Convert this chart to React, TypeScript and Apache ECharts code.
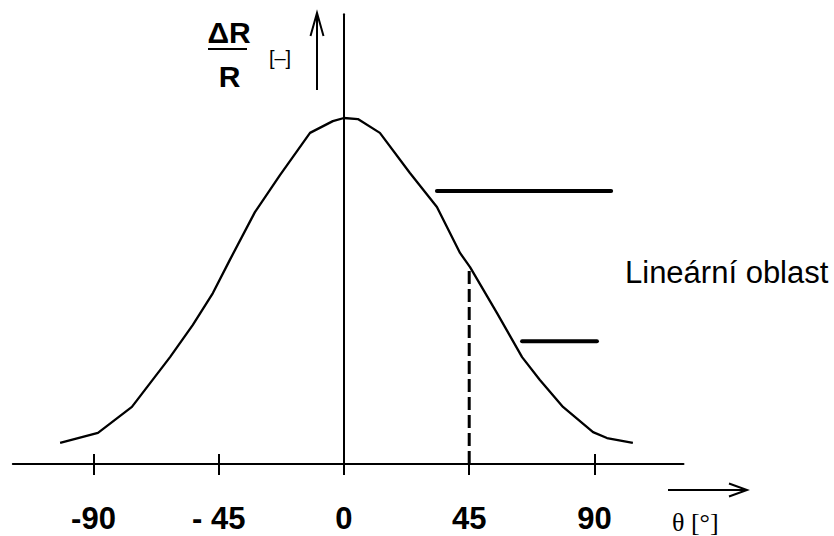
import React, { useEffect, useRef } from "react";
import * as echarts from "echarts";

// Curve: relative resistance change vs. angle (peak normalised to 1)
const thetaDeg = [-102, -88.4, -76.2, -62.5, -54.3, -47.1, -41.0, -32.0, -23.0, -12.2, -4.0, 0, 5.0, 12.9, 23.7, 33.4, 41.7, 45.3, 55.0, 64.0, 70.4, 78.7, 89.5, 94.5, 103.8];
const deltaR = [0.061, 0.09, 0.165, 0.309, 0.402, 0.494, 0.59, 0.728, 0.835, 0.957, 0.991, 1.0, 0.997, 0.957, 0.841, 0.743, 0.61, 0.569, 0.436, 0.309, 0.243, 0.165, 0.092, 0.075, 0.061];

// Dashed marker at 45°
const markerTheta = [45, 45];
const markerValue = [0, 0.569];

// Linear-region bracket lines
const upperBarTheta = [33.4, 96.0];
const upperBarValue = [0.789, 0.789];
const lowerBarTheta = [64.0, 90.9];
const lowerBarValue = [0.355, 0.355];

// Axis ticks
const tickValues = [-90, -45, 0, 45, 90];
const tickLabels = ["-90", "- 45", "0", "45", "90"];

const xMin = -119;
const xMax = 122;
const yMin = 0;
const yMax = 1.3;

const zip = (a: number[], b: number[]) => a.map((v, i) => [v, b[i]]);

export default function App() {
  const ref = useRef<HTMLDivElement>(null);
  useEffect(() => {
    if (!ref.current) return;
    const chart = echarts.init(ref.current, null, { renderer: "svg" });
    const black = "#000";
    const sans = "Liberation Sans, Arial, sans-serif";
    const serif = "Liberation Serif, Times New Roman, serif";
    chart.setOption({
      animation: false,
      backgroundColor: "#fff",
      grid: { left: 12.8, right: 150.5, top: 14.2, bottom: 72, containLabel: false },
      xAxis: [
        {
          type: "value",
          min: xMin,
          max: xMax,
          position: "bottom",
          axisLine: { show: true, onZero: true, lineStyle: { color: black, width: 2 } },
          axisTick: { show: true, inside: false, length: 11, customValues: tickValues, lineStyle: { color: black, width: 2 } },
          axisLabel: {
            show: true,
            customValues: tickValues,
            margin: 39,
            color: black,
            fontFamily: sans,
            fontWeight: "bold",
            fontSize: 31,
            lineHeight: 31,
            formatter: (v: number) => {
              const i = tickValues.indexOf(v);
              return i >= 0 ? tickLabels[i] : "";
            },
          },
          splitLine: { show: false },
        },
        {
          type: "value",
          min: xMin,
          max: xMax,
          position: "bottom",
          axisLine: { show: false },
          axisTick: { show: true, inside: true, length: 10, customValues: tickValues, lineStyle: { color: black, width: 2 } },
          axisLabel: { show: false },
          splitLine: { show: false },
        },
      ],
      yAxis: {
        type: "value",
        min: yMin,
        max: yMax,
        axisLine: { show: true, onZero: true, onZeroAxisIndex: 0, lineStyle: { color: black, width: 2 } },
        axisTick: { show: false },
        axisLabel: { show: false },
        splitLine: { show: false },
      },
      series: [
        {
          type: "line",
          data: zip(thetaDeg, deltaR),
          symbol: "none",
          smooth: false,
          silent: true,
          lineStyle: { color: black, width: 2.3, join: "round" },
        },
        {
          type: "line",
          data: zip(markerTheta, markerValue),
          symbol: "none",
          silent: true,
          lineStyle: { color: black, width: 3, type: [13, 5], cap: "butt" },
        },
        {
          type: "line",
          data: zip(upperBarTheta, upperBarValue),
          symbol: "none",
          silent: true,
          lineStyle: { color: black, width: 4, cap: "round" },
        },
        {
          type: "line",
          data: zip(lowerBarTheta, lowerBarValue),
          symbol: "none",
          silent: true,
          lineStyle: { color: black, width: 4, cap: "round" },
        },
      ],
      graphic: [
        {
          type: "text",
          x: 229,
          y: 32,
          style: { text: "ΔR", fill: black, font: `bold 30px ${sans}`, textAlign: "center", textVerticalAlign: "middle" },
        },
        {
          type: "line",
          shape: { x1: 208, y1: 49, x2: 247, y2: 49 },
          style: { stroke: black, lineWidth: 2 },
        },
        {
          type: "text",
          x: 229.5,
          y: 76,
          style: { text: "R", fill: black, font: `bold 30px ${sans}`, textAlign: "center", textVerticalAlign: "middle" },
        },
        {
          type: "text",
          x: 280,
          y: 58,
          style: { text: "[–]", fill: black, font: `20px ${sans}`, textAlign: "center", textVerticalAlign: "middle" },
        },
        {
          type: "line",
          shape: { x1: 317, y1: 90, x2: 317, y2: 14 },
          style: { stroke: black, lineWidth: 2 },
        },
        {
          type: "polyline",
          shape: { points: [[310.5, 36], [317, 13], [323.5, 36]] },
          style: { stroke: black, lineWidth: 2, fill: "none" },
        },
        {
          type: "text",
          x: 625,
          y: 272,
          style: { text: "Lineární oblast", fill: black, font: `31px ${sans}`, textAlign: "left", textVerticalAlign: "middle" },
        },
        {
          type: "line",
          shape: { x1: 668, y1: 490, x2: 745, y2: 490 },
          style: { stroke: black, lineWidth: 2 },
        },
        {
          type: "polyline",
          shape: { points: [[729, 483.5], [747, 490], [729, 496.5]] },
          style: { stroke: black, lineWidth: 2, fill: "none" },
        },
        {
          type: "text",
          x: 672,
          y: 522,
          style: { text: "θ [°]", fill: black, font: `26px ${serif}`, textAlign: "left", textVerticalAlign: "middle" },
        },
      ],
    });
    return () => chart.dispose();
  }, []);
  return (
    <div
      ref={ref}
      style={{ position: "fixed", left: 0, top: 0, width: 834, height: 536, background: "#fff" }}
    />
  );
}
